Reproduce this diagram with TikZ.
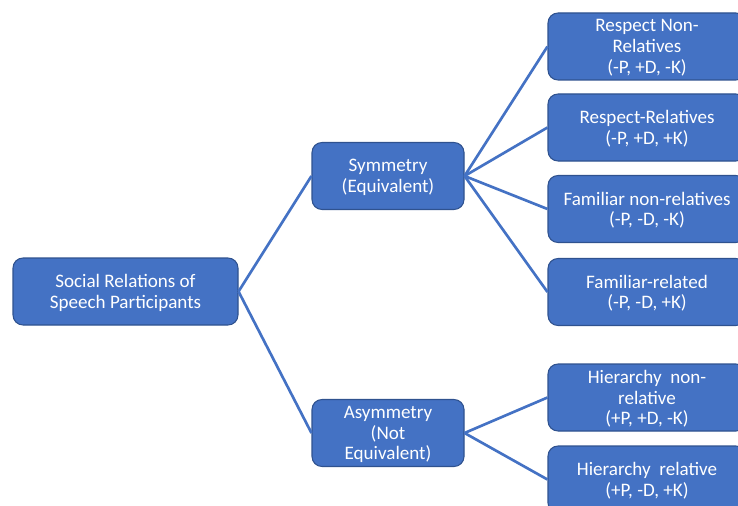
\documentclass[tikz,border=0pt]{standalone}
\usepackage{fontspec}
\setmainfont{Carlito}
\definecolor{boxfill}{HTML}{4472C4}
\definecolor{boxedge}{HTML}{2F528F}
\definecolor{link}{HTML}{4472C4}
\begin{document}
\begin{tikzpicture}[x=0.75pt,y=-0.75pt,
  box/.style={draw=boxedge,line width=0.8pt,fill=boxfill,rounded corners=7.5pt,
    text=white,align=center,inner sep=0pt,font=\fontsize{14.3}{15.5}\selectfont,
    text depth=-1.5pt,minimum height=50.25pt},
  rootbox/.style={box,minimum width=168.75pt},
  midbox/.style={box,minimum width=114pt},
  leafbox/.style={box,minimum width=148.5pt},
  link/.style={draw=link,line width=2pt}]
\useasboundingbox (0,0) rectangle (738,506);
\clip (0,0) rectangle (738,506);
% tree boxes
\node[rootbox] (root) at (125.5,291.5) {Social Relations of\\Speech Participants};
\node[midbox] (sym) at (388,176) {Symmetry\\(Equivalent)};
\node[midbox] (asym) at (388,433) {Asymmetry\\(Not\\Equivalent)};
\node[leafbox] (l1) at (647,46.5) {Respect Non-\\Relatives\\(-P, +D, -K)};
\node[leafbox] (l2) at (647,127.5) {Respect-Relatives\\(-P, +D, +K)};
\node[leafbox] (l3) at (647,209) {Familiar non-relatives\\(-P, -D, -K)};
\node[leafbox] (l4) at (647,292) {Familiar-related\\(-P, -D, +K)};
\node[leafbox] (l5) at (647,397.5) {Hierarchy\ \ non-\\relative\\(+P, +D, -K)};
\node[leafbox] (l6) at (647,479.5) {Hierarchy\ \ relative\\(+P, -D, +K)};
% connectors
\draw[link] (root.east) -- (sym.west);
\draw[link] (root.east) -- (asym.west);
\foreach \n in {l1,l2,l3,l4} \draw[link] (sym.east) -- (\n.west);
\foreach \n in {l5,l6} \draw[link] (asym.east) -- (\n.west);
\end{tikzpicture}
\end{document}
